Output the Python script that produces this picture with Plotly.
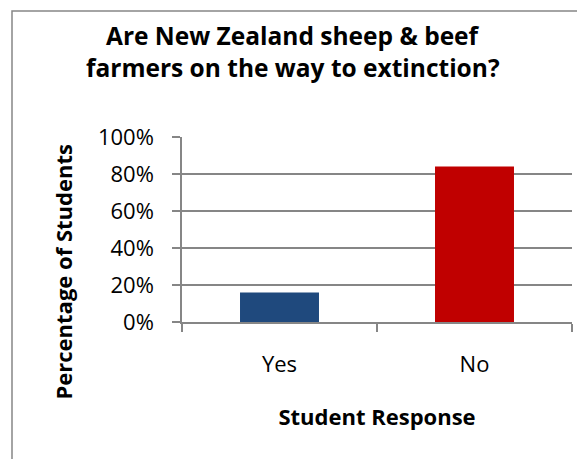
import plotly.graph_objects as go

categories = ["Yes", "No"]
values = [0.16, 0.84]
bar_colors = ["#1F497D", "#C00000"]
title_lines = ["Are New Zealand sheep & beef", "farmers on the way to extinction?"]
y_ticks = [0, 0.2, 0.4, 0.6, 0.8, 1.0]
x_title = "Student Response"
y_title = "Percentage of Students"

FONT = "Open Sans"
GRAY = "#868686"

fig = go.Figure(go.Bar(
    x=categories, y=values, marker_color=bar_colors, width=0.405,
    marker_line_width=0,
))

# plot area (figure coords): x 174..564, y 129..314
W, H = 585, 459
L, R, T, B = 174, 21, 129, 145
pw = W - L - R
ph = H - T - B

def px_x(p):
    return (p - L) / pw

def px_y(p):
    return (H - B - p) / ph

fig.update_layout(
    width=W, height=H,
    margin=dict(l=L, r=R, t=T, b=B, autoexpand=False),
    paper_bgcolor="white", plot_bgcolor="white",
    font=dict(family=FONT, color="black"),
    showlegend=False,
    xaxis=dict(
        type="category", showline=True, linecolor=GRAY, linewidth=1.5,
        ticks="outside", tickson="boundaries", ticklen=8, tickcolor=GRAY, tickwidth=1.5,
        ticklabelstandoff=22,
        tickfont=dict(size=22, family=FONT), showgrid=False,
        title=dict(text="<b>" + x_title + "</b>", font=dict(size=22, family=FONT), standoff=32),
    ),
    yaxis=dict(
        range=[0, 1], tickvals=y_ticks, tickformat=".0%",
        showline=True, linecolor=GRAY, linewidth=1.5,
        ticks="outside", ticklen=8, tickcolor=GRAY, tickwidth=1.5,
        ticklabelstandoff=14,
        showgrid=True, gridcolor=GRAY, gridwidth=1.5,
        tickfont=dict(size=22, family=FONT),
        zeroline=False,
    ),
    annotations=[
        dict(text="<b>" + title_lines[0] + "</b>", x=px_x(285), y=px_y(27), xref="paper", yref="paper",
             showarrow=False, font=dict(size=24.5, family=FONT), xanchor="center", yanchor="middle"),
        dict(text="<b>" + title_lines[1] + "</b>", x=px_x(285), y=px_y(59.5), xref="paper", yref="paper",
             showarrow=False, font=dict(size=24.5, family=FONT), xanchor="center", yanchor="middle"),
        dict(text="<b>" + y_title + "</b>", x=px_x(54), y=px_y(264.5), xref="paper", yref="paper",
             showarrow=False, textangle=-90, font=dict(size=22, family=FONT),
             xanchor="center", yanchor="middle"),
    ],
    shapes=[
        dict(type="rect", xref="paper", yref="paper", x0=px_x(4), x1=px_x(W - 4), y0=px_y(3), y1=px_y(H - 4),
             line=dict(color=GRAY, width=1.5)),
    ],
)

fig.write_html("out.html")
